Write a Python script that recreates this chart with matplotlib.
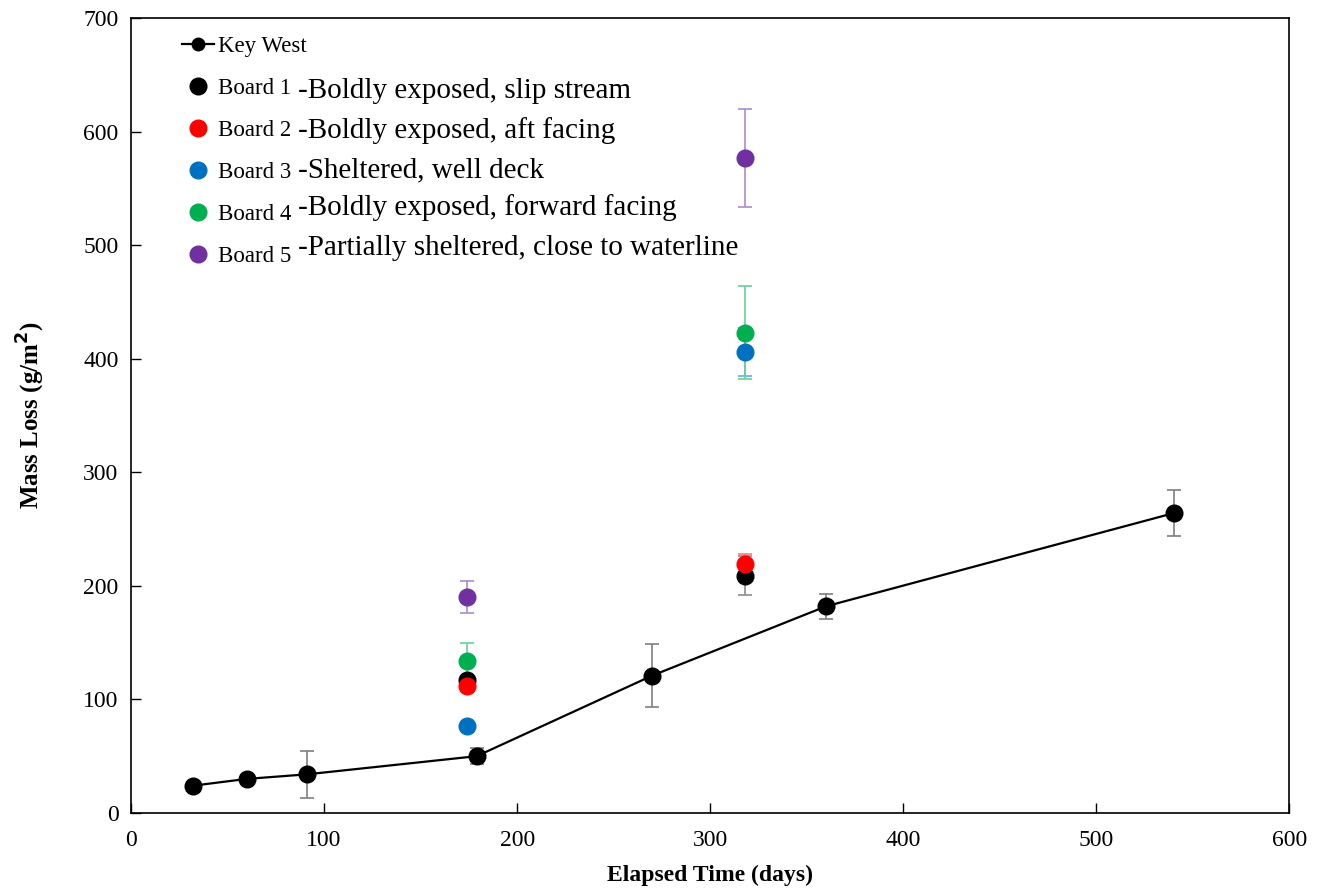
import matplotlib
matplotlib.use("Agg")
import matplotlib.pyplot as plt
from matplotlib.lines import Line2D

plt.rcParams['font.family'] = ['Liberation Serif', 'DejaVu Serif']

# Key West reference exposure
kw_days = [32, 60, 91, 179, 270, 360, 540]
kw_loss = [24, 30, 34, 50, 121, 182, 264]
kw_err = [2, 2, 21, 7, 28, 11, 20]

# Shipboard exposure boards (two retrieval times)
board_days = [174, 318]
board_names = ["Board 1", "Board 2", "Board 3", "Board 4", "Board 5"]
board_desc = ["-Boldly exposed, slip stream",
              "-Boldly exposed, aft facing",
              "-Sheltered, well deck",
              "-Boldly exposed, forward facing",
              "-Partially sheltered, close to waterline"]
board_loss = [[117, 209], [112, 219], [77, 406], [134, 423], [190, 577]]
board_err = [[3, 17], [3, 9], [2, 21], [16, 41], [14, 43]]
board_colors = ["#000000", "#FF0000", "#0070C0", "#00B050", "#7030A0"]
err_colors = ["#8C8C8C", "#F08080", "#6FA8DC", "#66D19A", "#A98BCB"]

fig = plt.figure(figsize=(13.22, 8.88), dpi=100)
ax = fig.add_axes([0.0991, 0.0845, 0.8763, 0.8952])

ax.errorbar(kw_days, kw_loss, yerr=kw_err, fmt='none', ecolor='#7F7F7F',
            elinewidth=1.2, capsize=5, capthick=1.2, zorder=2)
ax.plot(kw_days, kw_loss, '-o', color='black', lw=1.6, ms=12, zorder=3)

for loss, err, c, ec in zip(board_loss, board_err, board_colors, err_colors):
    ax.errorbar(board_days, loss, yerr=err, fmt='none', ecolor=ec,
                elinewidth=1.2, capsize=5, capthick=1.2, zorder=2)
    ax.plot(board_days, loss, 'o', color=c, ms=12, zorder=3)

ax.set_xlim(0, 600)
ax.set_ylim(0, 700)
ax.set_xticks(range(0, 601, 100))
ax.set_yticks(range(0, 701, 100))
ax.tick_params(axis='x', direction='in', length=7, width=1, labelsize=17, pad=12,
               top=False)
ax.tick_params(axis='y', direction='in', length=7, width=1, labelsize=17, pad=9,
               right=False)
for s in ax.spines.values():
    s.set_linewidth(1.2)

ax.set_xlabel("Elapsed Time (days)", fontsize=17, fontweight='bold', labelpad=10)
ax.set_ylabel("Mass Loss (g/m$^\\mathbf{2}$)", fontsize=18, fontweight='bold',
              labelpad=26)

handles = [Line2D([], [], color='black', marker='o', lw=1.6, ms=9)]
handles += [Line2D([], [], color=c, marker='o', lw=0, ms=12) for c in board_colors]
labels = ["Key West"] + board_names
leg = ax.legend(handles, labels, loc='upper left', bbox_to_anchor=(0.03, 0.997),
                frameon=False, fontsize=16.5, handlelength=1.4, handletextpad=0.2,
                labelspacing=0.91, borderaxespad=0.3)

# descriptions beside each board label
desc_base = [98, 138, 177, 215, 255]
for d, y in zip(board_desc, desc_base):
    fig.text(298 / 1322, 1 - y / 888, d, fontsize=21, va='baseline', ha='left')

fig.savefig("out.png", dpi=100)
